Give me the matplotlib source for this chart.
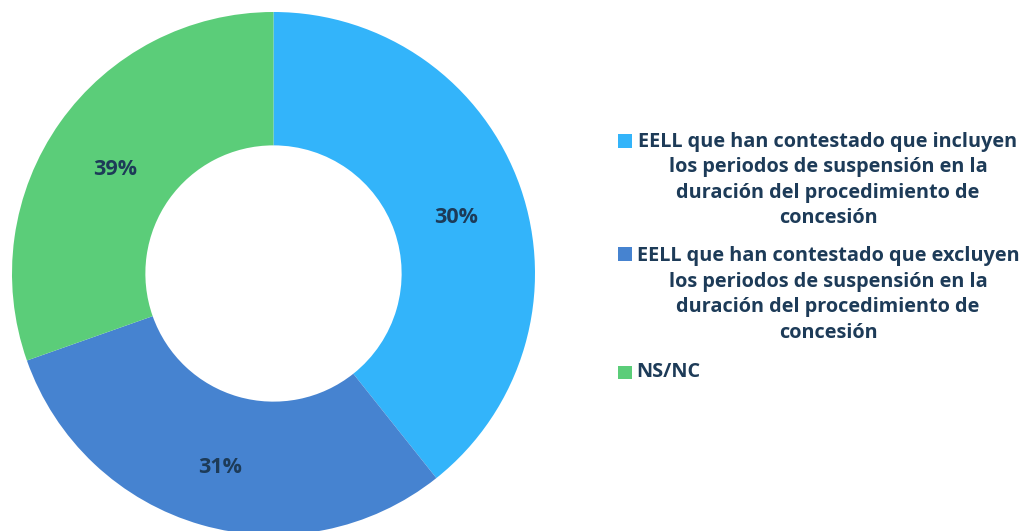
import numpy as np
import matplotlib.pyplot as plt

# wedge shares as drawn (clockwise from 12 o'clock) and the labels printed on them
shares = [39.3, 30.3, 30.4]
pct_labels = ['30%', '31%', '39%']
categories = [
    'EELL que han contestado que incluyen\nlos periodos de suspensión en la\nduración del procedimiento de\nconcesión',
    'EELL que han contestado que excluyen\nlos periodos de suspensión en la\nduración del procedimiento de\nconcesión',
    'NS/NC',
]
colors = ['#33B4FA', '#4683D0', '#5BCD79']
text_color = '#1D3B58'

plt.rcParams['font.family'] = ['Open Sans', 'DejaVu Sans']

W, H = 1031, 531
fig = plt.figure(figsize=(W / 100, H / 100), dpi=100)

# donut
cx, cy, r = 273.5, H - 273.5, 261.5
ax = fig.add_axes([(cx - r) / W, (cy - r) / H, 2 * r / W, 2 * r / H])
wedges, _ = ax.pie(shares, colors=colors, startangle=90, counterclock=False,
                   radius=1, wedgeprops=dict(width=0.51, linewidth=0))
ax.set_xlim(-1, 1)
ax.set_ylim(-1, 1)

for w, lab in zip(wedges, pct_labels):
    mid = np.deg2rad((w.theta1 + w.theta2) / 2)
    ax.text(0.74 * np.cos(mid), 0.74 * np.sin(mid) - 0.03, lab, ha='center', va='center',
            fontsize=15.5, fontweight='bold', color=text_color)

# legend drawn in pixel coordinates
lg = fig.add_axes([0, 0, 1, 1], facecolor='none')
lg.set_xlim(0, W)
lg.set_ylim(H, 0)
lg.axis('off')

square_y = [141, 254, 372.5]
lg.scatter([625] * 3, square_y, marker='s', s=95, c=colors, linewidths=0)

text_y = [180, 294.5, 372]
for lab, y in zip(categories, text_y):
    if '\n' in lab:
        lg.text(828, y, lab, ha='center', va='center', multialignment='center',
                fontsize=14.3, fontweight='bold', color=text_color, linespacing=1.36)
    else:
        lg.text(636, y, lab, ha='left', va='center',
                fontsize=14.3, fontweight='bold', color=text_color)

fig.savefig('out.png', dpi=100)
